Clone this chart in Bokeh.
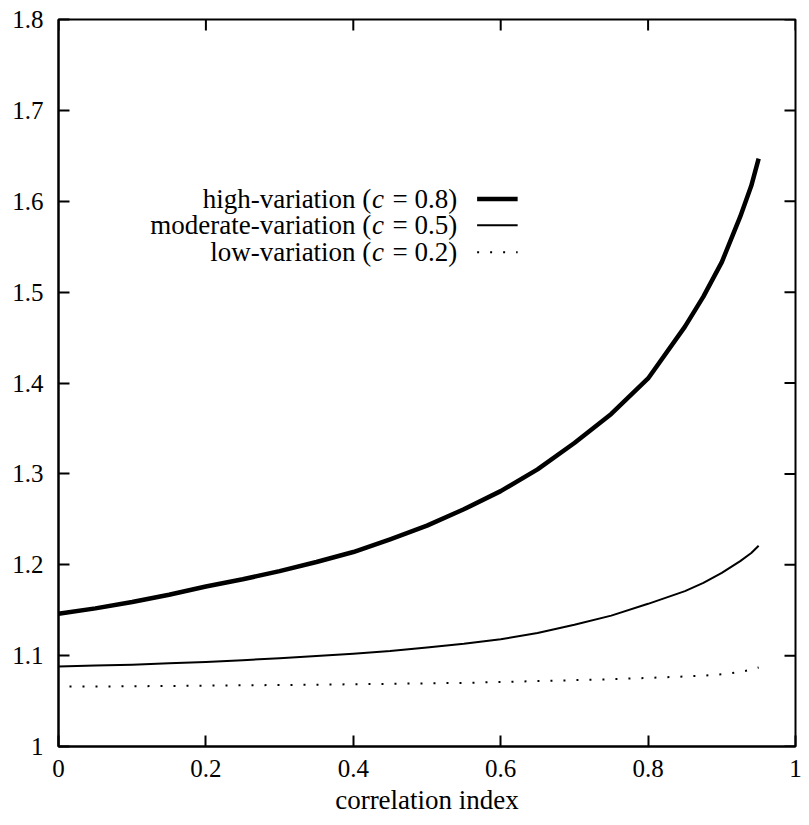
from math import pi
from bokeh.plotting import figure
from bokeh.models import ColumnDataSource, FixedTicker, CustomJSTickFormatter, Range1d
from bokeh.core.properties import value
from bokeh.embed import file_html
from bokeh.resources import INLINE

# ---- data ----
corr = [0.0, 0.05, 0.1, 0.15, 0.2, 0.25, 0.3, 0.35, 0.4, 0.45, 0.5, 0.55, 0.6, 0.65,
        0.7, 0.75, 0.8, 0.85, 0.875, 0.9, 0.925, 0.94, 0.95]
high_var = [1.146, 1.152, 1.159, 1.167, 1.176, 1.184, 1.193, 1.203, 1.214, 1.228, 1.243,
            1.261, 1.281, 1.305, 1.334, 1.366, 1.405, 1.462, 1.495, 1.533, 1.583, 1.617, 1.647]
moderate_var = [1.088, 1.089, 1.090, 1.0915, 1.093, 1.095, 1.097, 1.0995, 1.102, 1.105, 1.109,
                1.113, 1.118, 1.125, 1.134, 1.144, 1.157, 1.171, 1.180, 1.191, 1.204, 1.213, 1.221]
low_var = [1.066, 1.066, 1.0663, 1.0666, 1.067, 1.0673, 1.0677, 1.068, 1.0685, 1.069, 1.0695,
           1.070, 1.071, 1.072, 1.073, 1.074, 1.0755, 1.077, 1.078, 1.0795, 1.082, 1.0845, 1.087]

x_start, x_end = 0.0, 1.0
y_start, y_end = 1.0, 1.8
x_ticks = [0.0, 0.2, 0.4, 0.6, 0.8, 1.0]
y_ticks = [1.0, 1.1, 1.2, 1.3, 1.4, 1.5, 1.6, 1.7, 1.8]

legend_prefix = ["high-variation (", "moderate-variation (", "low-variation ("]
legend_symbol = ["c", "c", "c"]
legend_suffix = ["= 0.8)", "= 0.5)", "= 0.2)"]

FONT = "Liberation Serif"

p = figure(width=809, height=825, output_backend="svg", toolbar_location=None,
           x_range=Range1d(x_start, x_end), y_range=Range1d(y_start, y_end),
           min_border_left=58, min_border_right=14, min_border_top=19, min_border_bottom=79,
           x_axis_label="correlation index")
p.grid.visible = False
p.background_fill_color = "white"
p.border_fill_color = "white"
p.outline_line_color = "black"
p.outline_line_width = 2

fmt = CustomJSTickFormatter(code="return tick.toFixed(1).replace(/\\.0$/, '');")

def style_axis(ax):
    ax.axis_line_color = "black"
    ax.axis_line_width = 2
    ax.major_tick_in = 11
    ax.major_tick_out = 0
    ax.major_tick_line_width = 2
    ax.major_tick_line_color = "black"
    ax.minor_tick_line_color = None
    ax.major_label_text_font = FONT
    ax.major_label_text_font_size = "25px"
    ax.major_label_text_color = "black"
    ax.formatter = fmt

for ax in p.xaxis:
    ax.ticker = FixedTicker(ticks=x_ticks)
    style_axis(ax)
    ax.major_label_standoff = 13
    ax.axis_label_text_font = FONT
    ax.axis_label_text_font_style = "normal"
    ax.axis_label_text_font_size = "27px"
    ax.axis_label_text_color = "black"
    ax.axis_label_standoff = 5
for ax in p.yaxis:
    ax.ticker = FixedTicker(ticks=y_ticks)
    style_axis(ax)
    ax.major_label_standoff = 15

# inward ticks on the right and top edges of the frame
p.ray(x=[x_end] * len(y_ticks), y=y_ticks, length=11, length_units="screen", angle=pi,
      line_color="black", line_width=2)
p.ray(x=x_ticks, y=[y_end] * len(x_ticks), length=11, length_units="screen", angle=-pi / 2,
      line_color="black", line_width=2)

src = ColumnDataSource(dict(x=corr, high=high_var, mod=moderate_var, low=low_var))
p.line("x", "high", source=src, line_color="black", line_width=4.5, line_join="round")
p.line("x", "mod", source=src, line_color="black", line_width=2, line_join="round")
p.line("x", "low", source=src, line_color="black", line_width=2, line_dash="2 11",
       line_dash_offset=-11)

# ---- legend (label on the left, sample on the right) ----
leg_y = [1.6025, 1.5735, 1.5438]
c_x = 0.4255
eq_x = 0.4532
leg = ColumnDataSource(dict(y=leg_y, pre=legend_prefix, sym=legend_symbol, suf=legend_suffix))
p.text(x=c_x - 0.001, y="y", text="pre", source=leg, text_align="right", text_baseline="middle",
       text_font=value(FONT), text_font_size="27px", text_color="black")
p.text(x=c_x, y="y", text="sym", source=leg, text_align="left", text_baseline="middle",
       text_font=value(FONT), text_font_size="27px", text_font_style="italic", text_color="black")
p.text(x=eq_x, y="y", text="suf", source=leg, text_align="left", text_baseline="middle",
       text_font=value(FONT), text_font_size="27px", text_color="black")

sx0, sx1 = 0.568, 0.623
p.line([sx0, sx1], [leg_y[0], leg_y[0]], line_color="black", line_width=4.5)
p.line([sx0, sx1], [leg_y[1], leg_y[1]], line_color="black", line_width=2)
p.line([sx0, sx1], [leg_y[2], leg_y[2]], line_color="black", line_width=2, line_dash="2 11")

open("out.html", "w").write(file_html(p, INLINE))
